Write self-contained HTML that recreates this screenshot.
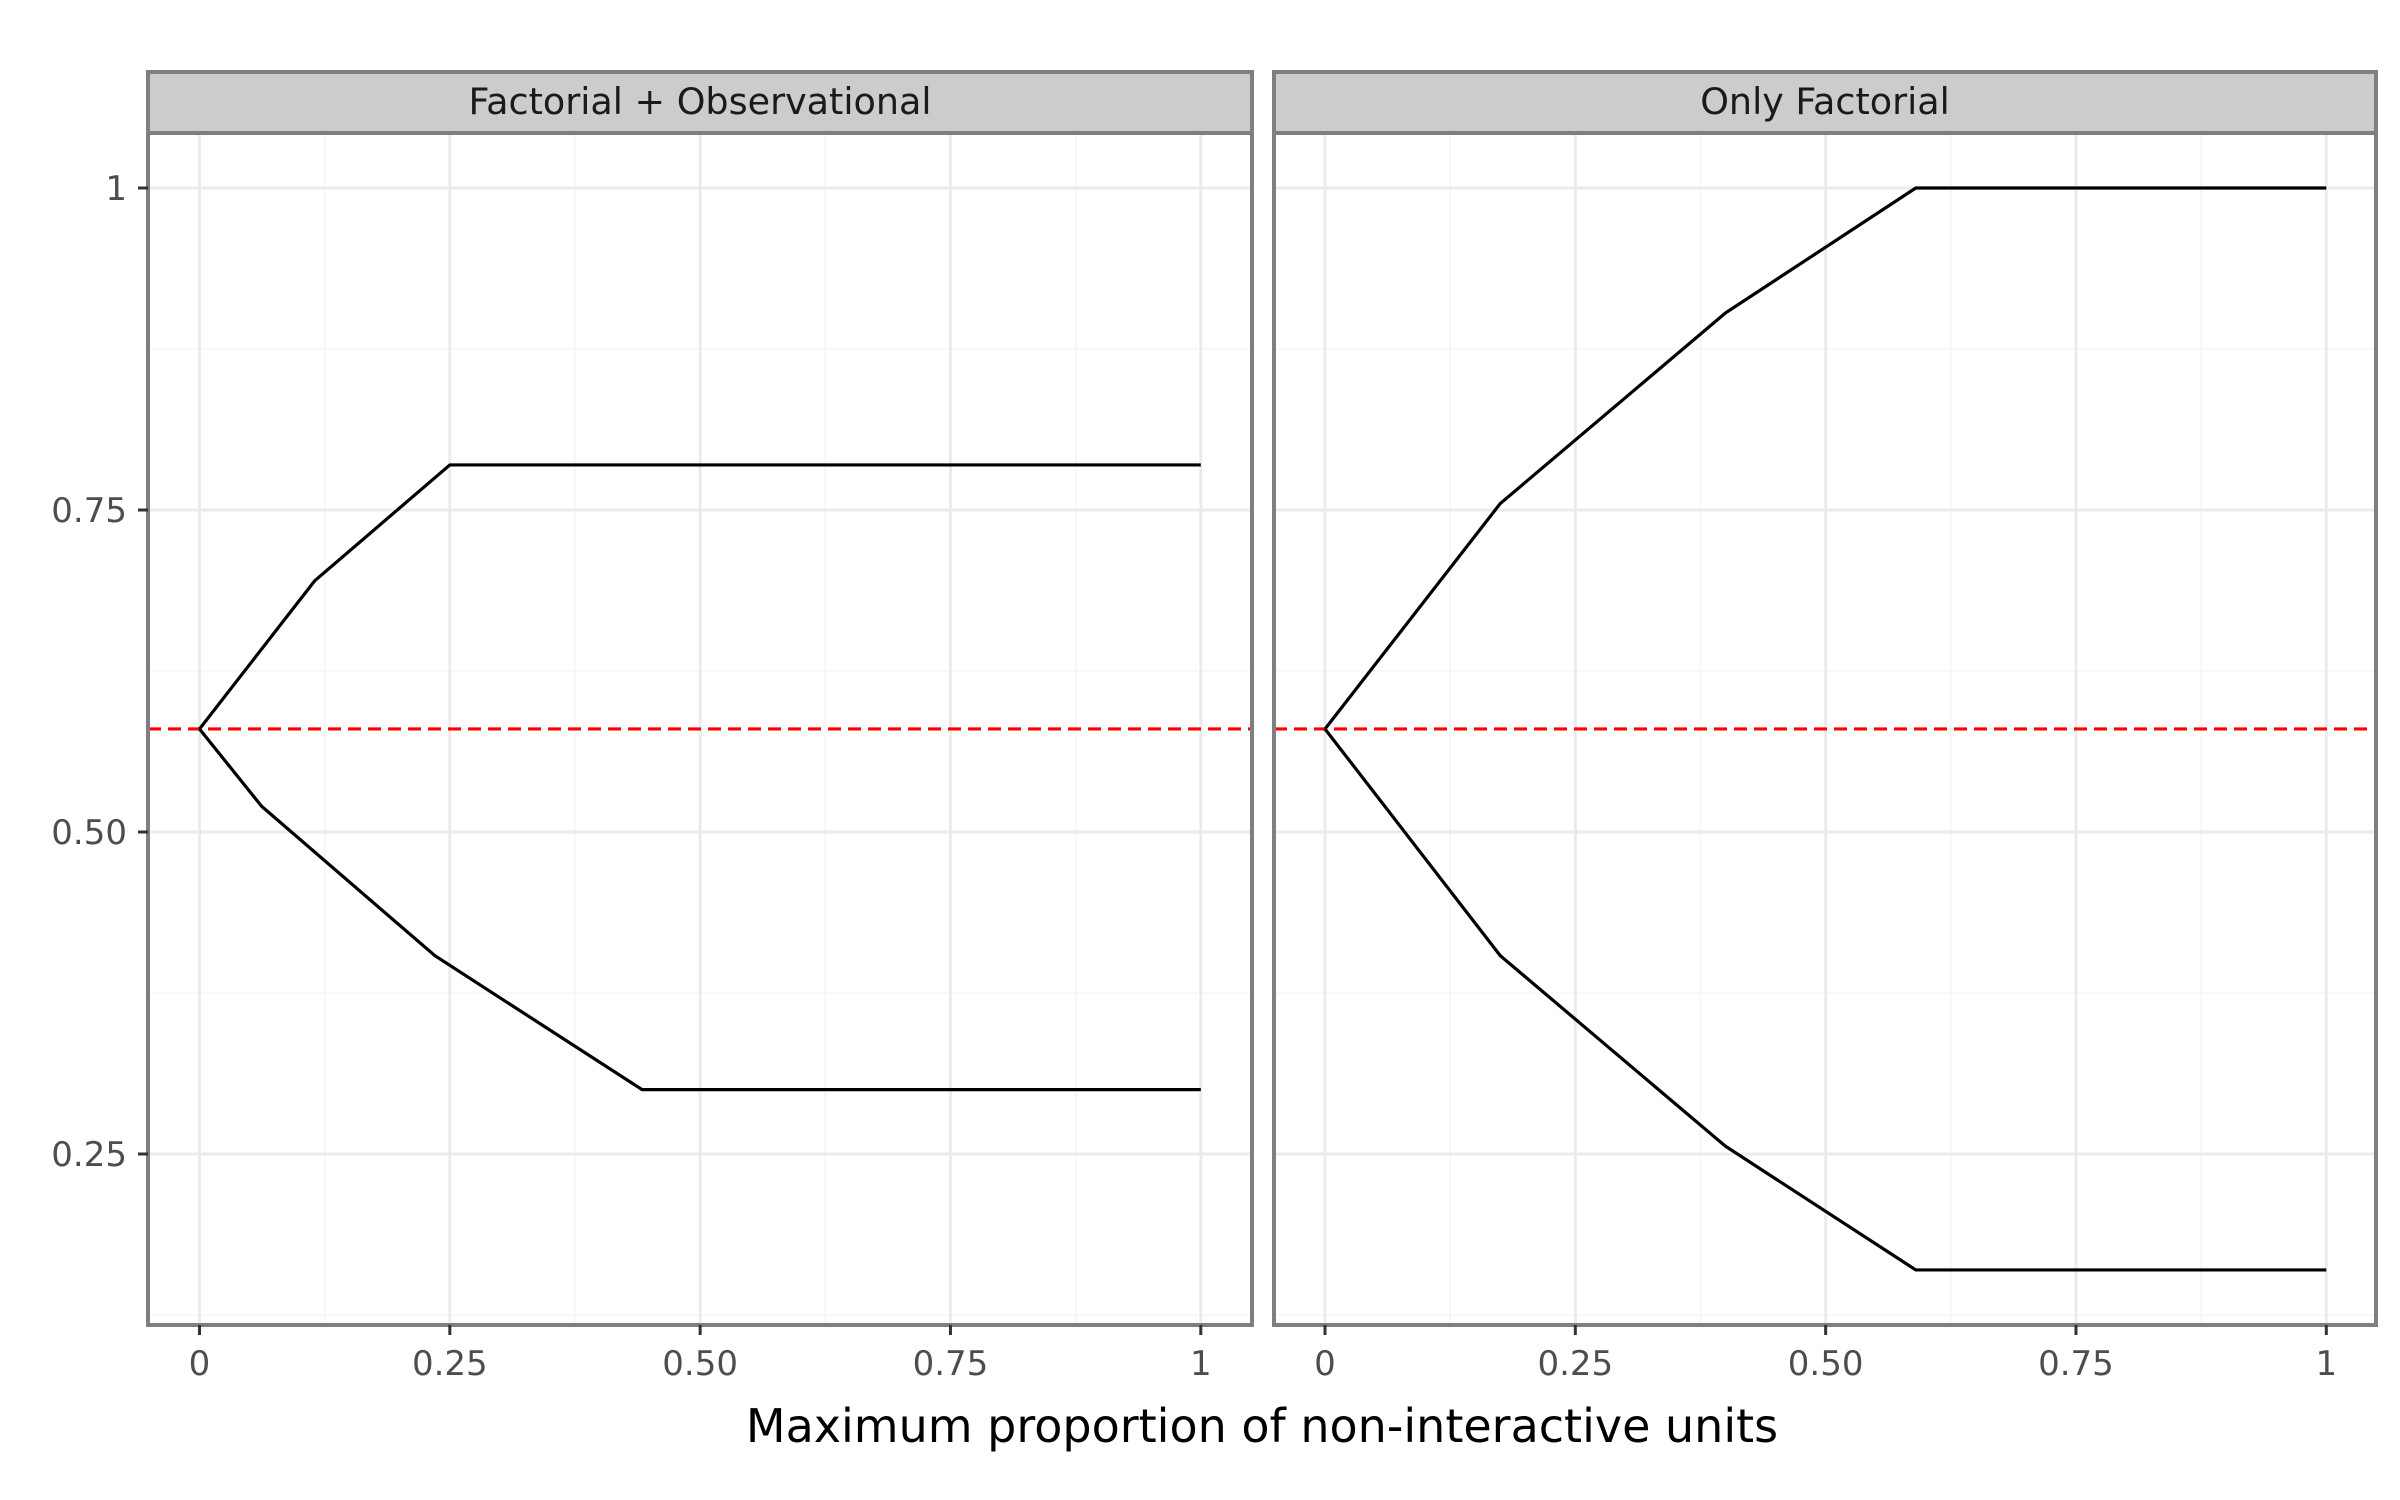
<!DOCTYPE html>
<html><head><meta charset="utf-8"><style>
html,body{margin:0;padding:0;background:#fff;}
svg{display:block;font-family:"DejaVu Sans","Liberation Sans",sans-serif;}
</style></head><body>
<svg id="chart" width="2400" height="1500" viewBox="0 0 2400 1500" xmlns="http://www.w3.org/2000/svg"></svg>
<script>
const panelTitles = ["Factorial + Observational", "Only Factorial"];
const upperX = [[0, 0.115, 0.25, 1], [0, 0.175, 0.4, 0.59, 1]];
const upperY = [[0.58, 0.695, 0.785, 0.785], [0.58, 0.755, 0.903, 1.0, 1.0]];
const lowerX = [[0, 0.062, 0.235, 0.442, 1], [0, 0.175, 0.4, 0.59, 1]];
const lowerY = [[0.58, 0.52, 0.404, 0.30, 0.30], [0.58, 0.404, 0.256, 0.16, 0.16]];
const refValue = 0.58;
const xTicks = [0, 0.25, 0.5, 0.75, 1];
const xTickLabels = ["0", "0.25", "0.50", "0.75", "1"];
const yTicks = [0.25, 0.5, 0.75, 1];
const yTickLabels = ["0.25", "0.50", "0.75", "1"];

const NS = "http://www.w3.org/2000/svg";
const svg = document.getElementById("chart");
function mk(tag, attrs, parent) {
  const e = document.createElementNS(NS, tag);
  for (const k in attrs) e.setAttribute(k, attrs[k]);
  (parent || svg).appendChild(e);
  return e;
}
const panels = [{l:148, r:1252}, {l:1274, r:2376}];
const pTop = 133, pBot = 1325, stripTop = 72;
const x0s = [199.5, 1325], xSpan = 1001.3;
const yScale = v => 832 - (v - 0.5) * 1288;

panels.forEach((p, i) => {
  const xScale = v => x0s[i] + v * xSpan;
  const g = mk("g", {});
  
  
  mk("rect", {x:p.l, y:pTop, width:p.r-p.l, height:pBot-pTop, fill:"#fff"}, g);
  for (let k = 0; k < xTicks.length - 1; k++) {
    const xm = xScale((xTicks[k] + xTicks[k+1]) / 2);
    mk("line", {x1:xm, x2:xm, y1:pTop, y2:pBot, stroke:"#f5f5f5", "stroke-width":1.6}, g);
  }
  const ym = [0.125, 0.375, 0.625, 0.875];
  ym.forEach(v => mk("line", {x1:p.l, x2:p.r, y1:yScale(v), y2:yScale(v), stroke:"#f5f5f5", "stroke-width":1.6}, g));
  xTicks.forEach(v => mk("line", {x1:xScale(v), x2:xScale(v), y1:pTop, y2:pBot, stroke:"#ebebeb", "stroke-width":3}, g));
  yTicks.forEach(v => mk("line", {x1:p.l, x2:p.r, y1:yScale(v), y2:yScale(v), stroke:"#ebebeb", "stroke-width":3}, g));
  const ref = mk("line", {x1:p.l, x2:p.r, y1:yScale(refValue), y2:yScale(refValue), stroke:"#ff0000", "stroke-width":3.2, "stroke-dasharray":"13 7"}, g);
  
  
  const up = mk("polyline", {points: upperX[i].map((x, j) => xScale(x) + "," + yScale(upperY[i][j])).join(" "), fill:"none", stroke:"#000", "stroke-width":3.2}, g);
  
  
  const lo = mk("polyline", {points: lowerX[i].map((x, j) => xScale(x) + "," + yScale(lowerY[i][j])).join(" "), fill:"none", stroke:"#000", "stroke-width":3.2}, g);
  
  
  mk("rect", {x:p.l, y:pTop, width:p.r-p.l, height:pBot-pTop, fill:"none", stroke:"#7f7f7f", "stroke-width":4}, g);
  const strip = mk("rect", {x:p.l, y:stripTop, width:p.r-p.l, height:pTop-stripTop, fill:"#cccccc", stroke:"#7f7f7f", "stroke-width":4}, g);
  
  
  const st = mk("text", {x:(p.l+p.r)/2, y:114, "text-anchor":"middle", "font-size":36.5, fill:"#1a1a1a"}, g);
  st.textContent = panelTitles[i];
  
  
  xTicks.forEach((v, k) => {
    mk("line", {x1:xScale(v), x2:xScale(v), y1:pBot, y2:pBot+10, stroke:"#333", "stroke-width":3}, g);
    const t = mk("text", {x:xScale(v), y:1375, "text-anchor":"middle", "font-size":34, fill:"#4d4d4d"}, g);
    t.textContent = xTickLabels[k];
    
    
  });
});
yTicks.forEach((v, k) => {
  mk("line", {x1:138, x2:148, y1:yScale(v), y2:yScale(v), stroke:"#333", "stroke-width":3});
  const t = mk("text", {x:127, y:yScale(v)+12, "text-anchor":"end", "font-size":34, fill:"#4d4d4d"});
  t.textContent = yTickLabels[k];
  
  
});
const xt = mk("text", {x:1262, y:1442, "text-anchor":"middle", "font-size":46, fill:"#000"});
xt.textContent = "Maximum proportion of non-interactive units";


</script>
</body></html>
